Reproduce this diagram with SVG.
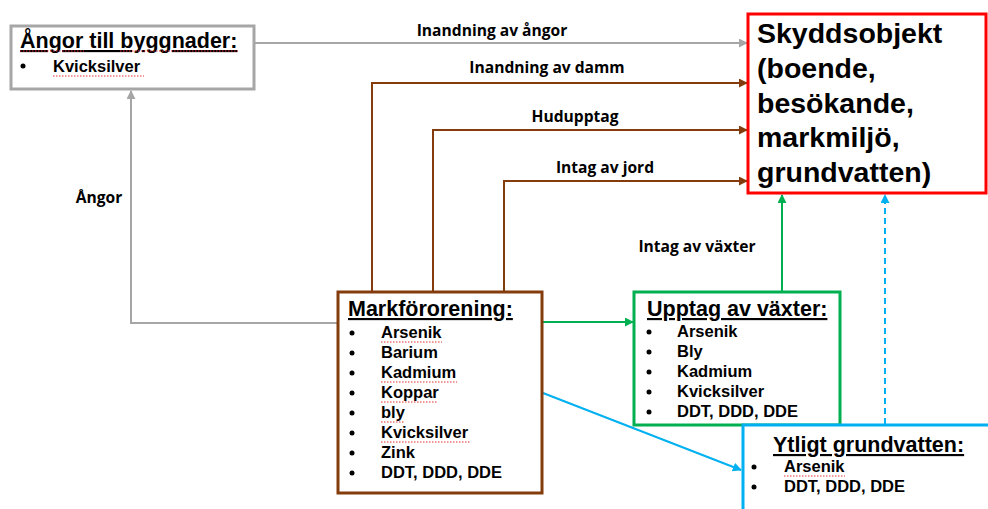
<svg xmlns="http://www.w3.org/2000/svg" width="988" height="509" viewBox="0 0 988 509">
<defs>
<style>
.box{fill:#fff;stroke-width:3}
.t{font-family:"Liberation Sans",Arial,sans-serif;font-weight:700;fill:#000}
.title{font-size:21.5px;text-decoration:underline}
.item{font-size:16.5px}
.big{font-size:28.5px}
.lbl{font-family:"Open Sans","Liberation Sans",sans-serif;font-weight:700;font-size:15.6px;fill:#000;text-anchor:middle}
.c{fill:none;stroke-width:2}
.sq{fill:none;stroke:#e03030;stroke-width:1;stroke-dasharray:1.5 1.5}
</style>
<marker id="aGrey" viewBox="0 0 10 10" refX="9" refY="5" markerWidth="4.5" markerHeight="4.5" orient="auto" markerUnits="strokeWidth"><path d="M0,0L10,5L0,10z" fill="#a6a6a6"/></marker>
<marker id="aBrown" viewBox="0 0 10 10" refX="9" refY="5" markerWidth="4.5" markerHeight="4.5" orient="auto" markerUnits="strokeWidth"><path d="M0,0L10,5L0,10z" fill="#843c0c"/></marker>
<marker id="aGreen" viewBox="0 0 10 10" refX="9" refY="5" markerWidth="4.5" markerHeight="4.5" orient="auto" markerUnits="strokeWidth"><path d="M0,0L10,5L0,10z" fill="#00b050"/></marker>
<marker id="aBlue" viewBox="0 0 10 10" refX="9" refY="5" markerWidth="4.5" markerHeight="4.5" orient="auto" markerUnits="strokeWidth"><path d="M0,0L10,5L0,10z" fill="#00b0f0"/></marker>
</defs>
<rect width="988" height="509" fill="#fff"/>

<g id="connectors">
<path class="c" stroke="#a6a6a6" d="M254,43H747" marker-end="url(#aGrey)"/>
<path class="c" stroke="#a6a6a6" d="M338,323H131V91" marker-end="url(#aGrey)"/>
<path class="c" stroke="#843c0c" d="M372,292V83H747" marker-end="url(#aBrown)"/>
<path class="c" stroke="#843c0c" d="M433,292V130H747" marker-end="url(#aBrown)"/>
<path class="c" stroke="#843c0c" d="M504,292V181H747" marker-end="url(#aBrown)"/>
<path class="c" stroke="#00b050" d="M543,322H633" marker-end="url(#aGreen)"/>
<path class="c" stroke="#00b050" d="M782,291V195" marker-end="url(#aGreen)"/>
<path class="c" stroke="#00b0f0" d="M543,393L741,470" marker-end="url(#aBlue)"/>
<path class="c" stroke="#00b0f0" stroke-dasharray="6 4" d="M885,424V195" marker-end="url(#aBlue)"/>
<text class="lbl" x="492" y="36">Inandning av ångor</text>
<text class="lbl" x="547" y="73">Inandning av damm</text>
<text class="lbl" x="575" y="122">Hudupptag</text>
<text class="lbl" x="605" y="173">Intag av jord</text>
<text class="lbl" x="697" y="252">Intag av växter</text>
<text class="lbl" x="99" y="203">Ångor</text>
</g>

<g id="angor">
<rect class="box" x="11" y="26" width="243" height="63" stroke="#a6a6a6"/>
<text class="t title" x="20" y="48">Ångor till byggnader:</text>
<circle cx="23" cy="66" r="2.5"/>
<text class="t item" x="53" y="72">Kvicksilver</text>
<path class="sq" d="M20,51H84M120,51H238M53,76H144"/>
</g>

<g id="skydd">
<rect class="box" x="748" y="14" width="238" height="179" stroke="#ff0000"/>
<text class="t big" x="757" y="43">Skyddsobjekt</text>
<text class="t big" x="757" y="78">(boende,</text>
<text class="t big" x="757" y="113">besökande,</text>
<text class="t big" x="757" y="147">markmiljö,</text>
<text class="t big" x="757" y="182">grundvatten)</text>
</g>

<g id="mark">
<rect class="box" x="338" y="292" width="204" height="201" stroke="#843c0c"/>
<text class="t title" x="348" y="316">Markförorening:</text>
<g class="t item">
<text x="381" y="338">Arsenik</text>
<text x="381" y="358">Barium</text>
<text x="381" y="378">Kadmium</text>
<text x="381" y="398">Koppar</text>
<text x="381" y="418">bly</text>
<text x="381" y="438">Kvicksilver</text>
<text x="381" y="458">Zink</text>
<text x="381" y="478">DDT, DDD, DDE</text>
</g>
<g>
<circle cx="352" cy="333" r="2.5"/><circle cx="352" cy="353" r="2.5"/><circle cx="352" cy="373" r="2.5"/><circle cx="352" cy="393" r="2.5"/><circle cx="352" cy="413" r="2.5"/><circle cx="352" cy="433" r="2.5"/><circle cx="352" cy="453" r="2.5"/><circle cx="352" cy="473" r="2.5"/>
</g>
<path class="sq" d="M381,342H442M381,382H457M381,402H438M381,422H404M381,442H471"/>
</g>

<g id="upptag">
<rect class="box" x="634" y="292" width="206" height="133" stroke="#00b050"/>
<text class="t title" x="647" y="316">Upptag av växter:</text>
<g class="t item">
<text x="677" y="337">Arsenik</text>
<text x="677" y="357">Bly</text>
<text x="677" y="377">Kadmium</text>
<text x="677" y="397">Kvicksilver</text>
<text x="677" y="417">DDT, DDD, DDE</text>
</g>
<circle cx="649" cy="332" r="2.5"/><circle cx="649" cy="352" r="2.5"/><circle cx="649" cy="372" r="2.5"/><circle cx="649" cy="392" r="2.5"/><circle cx="649" cy="412" r="2.5"/>
</g>

<g id="ytligt">
<rect class="box" x="743" y="425" width="260" height="100" stroke="#00b0f0"/>
<text class="t title" x="773" y="452">Ytligt grundvatten:</text>
<g class="t item">
<text x="784" y="472">Arsenik</text>
<text x="784" y="492">DDT, DDD, DDE</text>
</g>
<circle cx="754" cy="467" r="2.5"/><circle cx="754" cy="487" r="2.5"/>
<path class="sq" d="M784,476H845"/>
</g>
</svg>
